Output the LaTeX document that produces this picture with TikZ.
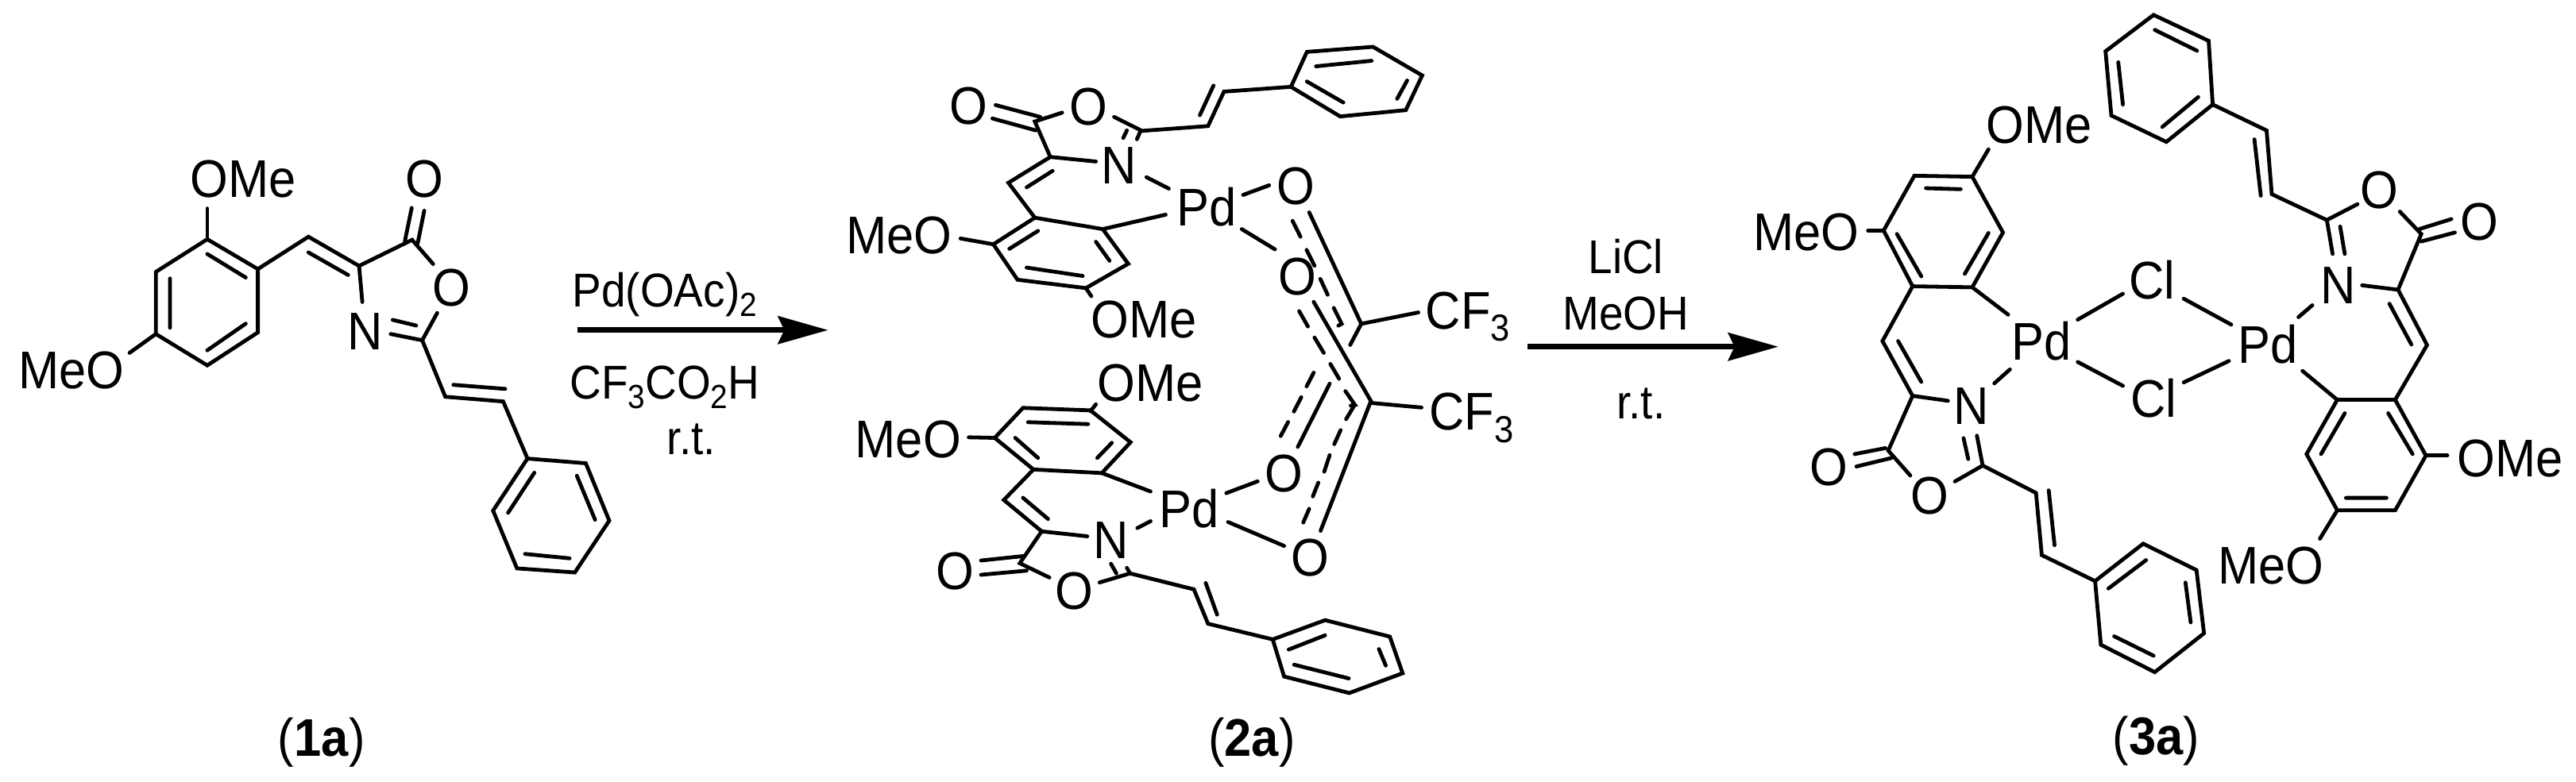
\documentclass[tikz,border=0pt]{standalone}
\usepackage{fontspec}
\setmainfont[FakeStretch=0.92]{Liberation Sans}
\usetikzlibrary{arrows.meta}
\newcommand{\sbig}[1]{\raisebox{-4.3pt}{\fontsize{13.5}{15}\selectfont #1}}
\newcommand{\ssmall}[1]{\raisebox{-3.3pt}{\fontsize{12}{14}\selectfont #1}}
\tikzset{
  bond/.style={line width=0.48mm,line cap=round,line join=miter,miter limit=10,black},
  lab/.style={font=\fontsize{19}{22}\selectfont,inner sep=0pt,outer sep=0pt,anchor=base,text=black},
  labw/.style={lab,anchor=base west},
  rgt/.style={font=\fontsize{17}{20}\selectfont,inner sep=0pt,outer sep=0pt,anchor=base,text=black},
  rgtw/.style={rgt,anchor=base west},
  rxn/.style={line width=0.66mm,black,-{Stealth[length=6.3mm,width=3.5mm,inset=0.8mm]}},
  fullpx/.style={shift={(0cm,9.84cm)},x=0.01cm,y=-0.01cm},
  cropa/.style={shift={(0cm,8.34cm)},x=0.005102cm,y=-0.003954cm},
  cropb/.style={shift={(10.4cm,9.84cm)},x=0.00574cm,y=-0.003189cm},
  cropc/.style={shift={(10.4cm,5.44cm)},x=0.00574cm,y=-0.003469cm},
  cropd/.style={shift={(21cm,9.84cm)},x=0.00729cm,y=-0.006276cm},
  crope/.style={shift={(15.8cm,7.84cm)},x=0.003333cm,y=-0.003333cm}
}
\begin{document}
\begin{tikzpicture}
\fill[white] (0,0) rectangle (32.43,9.84);
\useasboundingbox (0,0) rectangle (32.43,9.84);

% ---------- compound 1a ----------
\begin{scope}[cropa]
\draw[bond] (512,383)--(637,478)--(637,680)--(512,785)--(385,685)--(385,487)--cycle;
\draw[bond] (512,430)--(607,505) (607,652)--(512,737) (420,508)--(420,665);
\draw[bond] (512,383)--(512,285);
\draw[bond] (385,685)--(320,745);
\draw[bond] (637,478)--(762,375)--(887,468)--(1018,385)--(1070,462);
\draw[bond] (762,425)--(860,497);
\draw[bond] (1000,390)--(1017,283) (1032,395)--(1048,292);
\draw[bond] (887,468)--(895,583);
\draw[bond] (1080,618)--(1043,705)--(965,685);
\draw[bond] (1028,658)--(970,640);
\draw[bond] (1043,705)--(1100,885)--(1243,900)--(1303,1082);
\draw[bond] (1120,847)--(1248,860);
\draw[bond] (1303,1082)--(1447,1097)--(1505,1280)--(1420,1445)--(1277,1432)--(1218,1248)--cycle;
\draw[bond] (1320,1127)--(1255,1255) (1425,1137)--(1470,1277) (1407,1400)--(1297,1386);
\node[lab] (a-ome) at (600,250) {OMe};
\node[lab] (a-meo) at (176,858) {MeO};
\node[lab] (a-o1) at (1048,250) {O};
\node[lab] (a-o2) at (1115,595) {O};
\node[lab] (a-n) at (902,735) {N};
\end{scope}

% ---------- reagents and arrows ----------
\begin{scope}[fullpx]
\coordinate (r1s) at (727,416);
\coordinate (r1e) at (1043,416);
\coordinate (r2s) at (1924,437);
\coordinate (r2e) at (2240,437);
\draw[rxn] (r1s)--(r1e);
\draw[rxn] (r2s)--(r2e);
\node[rgtw] (pdoac) at (721,387) {Pd(OAc)\ssmall{2}};
\node[rgtw] (tfa) at (718,503) {CF\ssmall{3}CO\ssmall{2}H};
\node[rgt] (rt1) at (871,573) {r.t.};
\node[rgt] (licl) at (2048,345) {LiCl};
\node[rgt] (meoh) at (2048,416) {MeOH};
\node[rgt] (rt2) at (2067,528) {r.t.};
\node[lab] (l1) at (405,953) {(\textbf{1a})};
\node[lab] (l2) at (1577,953) {(\textbf{2a})};
\node[lab] (l3) at (2716,951) {(\textbf{3a})};
\end{scope}

% ---------- compound 2a, upper half ----------
\begin{scope}[cropb]
\draw[bond] (372,415)--(470,462) (365,468)--(460,515);
\draw[bond] (518,445)--(458,480)--(492,620)--(592,638);
\draw[bond] (632,462)--(693,517)--(838,498)--(873,362)--(1020,343);
\draw[bond] (690,517)--(682,550) (660,515)--(652,545);
\draw[bond] (820,455)--(850,338);
\draw[bond] (1020,343)--(1055,205)--(1200,185)--(1308,298)--(1272,435)--(1128,460)--cycle;
\draw[bond] (1075,262)--(1197,240) (1275,318)--(1253,390) (1135,405)--(1055,322);
\draw[bond] (492,620)--(400,722)--(458,860);
\draw[bond] (497,675)--(440,740);
\draw[bond] (458,860)--(607,905)--(663,1042)--(570,1138)--(420,1105)--(367,965)--cycle;
\draw[bond] (465,912)--(402,983) (592,955)--(622,1030) (563,1090)--(440,1057);
\draw[bond] (607,905)--(745,848);
\draw[bond] (703,700)--(752,745);
\draw[bond] (915,770)--(972,732);
\draw[bond] (912,905)--(985,985);
\draw[bond] (367,965)--(295,942);
\draw[bond] (570,1138)--(582,1170);
\node[lab] (b-o1) at (312,492) {O};
\node[lab] (b-o2) at (575,493) {O};
\node[lab] (b-n) at (643,725) {N};
\node[lab] (b-pd) at (835,893) {Pd};
\node[lab] (b-meo) at (160,1002) {MeO};
\node[lab] (b-ome) at (697,1335) {OMe};
\end{scope}

% ---------- trifluoroacetate bridges ----------
\begin{scope}[crope]
\draw[bond] (205,203)--(402,625)--(618,582);
\draw[bond] (142,235)--(172,295) (195,345)--(225,405) (247,455)--(275,515) (298,565)--(328,625)--(315,632);
\draw[bond] (402,625)--(360,705);
\draw[bond] (222,542)--(443,925)--(630,942);
\draw[bond] (167,577)--(200,635) (225,677)--(260,735) (285,777)--(318,833) (342,880)--(378,932)--(362,935);
\draw[bond] (222,810)--(195,862) (175,903)--(147,957) (125,997)--(97,1050);
\node[lab] (e-o1) at (153,172) {O};
\node[lab] (e-o2) at (160,515) {O};
\node[labw] (e-cf1) at (646,645) {CF\sbig{3}};
\node[labw] (e-cf2) at (659,1028) {CF\sbig{3}};
\end{scope}

% ---------- compound 2a, lower half ----------
\begin{scope}[cropc]
\draw[bond] (1105,125)--(1035,355);
\draw[bond] (1195,190)--(1085,660);
\draw[bond] (1158,207)--(1141,254) (1129,294)--(1115,345) (1105,385)--(1093,445) (1080,485)--(1068,535) (1060,580)--(1047,630);
\draw[bond] (580,225)--(592,200);
\draw[bond] (580,222)--(432,213)--(370,322)--(455,437)--(605,450)--(668,338)--cycle;
\draw[bond] (575,272)--(443,265) (415,322)--(465,395) (627,340)--(595,395);
\draw[bond] (370,322)--(313,320);
\draw[bond] (455,437)--(390,548)--(473,662);
\draw[bond] (432,540)--(487,617);
\draw[bond] (605,450)--(712,517);
\draw[bond] (683,650)--(712,625);
\draw[bond] (573,680)--(473,662)--(425,778)--(490,830);
\draw[bond] (433,752)--(340,768) (440,805)--(340,820);
\draw[bond] (600,848)--(667,815)--(807,873)--(838,998)--(980,1055);
\draw[bond] (625,780)--(637,815) (660,795)--(667,815);
\draw[bond] (833,850)--(858,965);
\draw[bond] (980,1055)--(1095,985)--(1237,1045)--(1265,1178)--(1148,1250)--(1005,1190)--cycle;
\draw[bond] (1015,1092)--(1095,1040) (1213,1090)--(1228,1150) (1147,1197)--(1027,1147);
\draw[bond] (878,523)--(947,480);
\draw[bond] (882,628)--(1005,715);
\node[lab] (c-ome) at (712,188) {OMe};
\node[lab] (c-meo) at (180,393) {MeO};
\node[lab] (c-pd) at (797,647) {Pd};
\node[lab] (c-n) at (625,762) {N};
\node[lab] (c-o1) at (283,873) {O};
\node[lab] (c-o2) at (545,945) {O};
\node[lab] (c-o3) at (1005,518) {O};
\node[lab] (c-o4) at (1062,825) {O};
\end{scope}

% ---------- compound 3a ----------
\begin{scope}[cropd]
% left half
\draw[bond] (422,575)--(525,577)--(578,467)--(525,355)--(425,353)--(372,463)--cycle;
\draw[bond] (512,550)--(553,468) (505,380)--(445,378) (437,555)--(395,470);
\draw[bond] (525,355)--(553,300);
\draw[bond] (372,463)--(345,463);
\draw[bond] (422,575)--(370,685)--(422,795);
\draw[bond] (397,685)--(437,767);
\draw[bond] (525,577)--(587,632);
\draw[bond] (563,770)--(590,742);
\draw[bond] (483,805)--(422,795)--(380,905)--(418,955);
\draw[bond] (375,900)--(322,912) (385,920)--(325,937);
\draw[bond] (495,967)--(543,935)--(533,875);
\draw[bond] (518,922)--(510,880);
\draw[bond] (543,935)--(635,990)--(645,1115)--(737,1167);
\draw[bond] (657,985)--(667,1095);
\draw[bond] (737,1167)--(820,1092)--(912,1145)--(925,1272)--(840,1350)--(747,1295)--cycle;
\draw[bond] (760,1182)--(825,1125) (893,1170)--(902,1250) (770,1278)--(838,1317);
% chloride bridges
\draw[bond] (707,642)--(785,590) (890,600)--(972,652);
\draw[bond] (707,727)--(785,775) (890,768)--(968,725);
% right half
\draw[bond] (1088,637)--(1112,613);
\draw[bond] (1155,803)--(1255,803)--(1308,915)--(1255,1025)--(1155,1025)--(1102,912)--cycle;
\draw[bond] (1243,830)--(1285,912) (1240,1000)--(1170,1000) (1127,912)--(1168,830);
\draw[bond] (1095,745)--(1155,803);
\draw[bond] (1255,803)--(1310,693)--(1260,582);
\draw[bond] (1283,692)--(1245,610);
\draw[bond] (1198,573)--(1260,582)--(1300,470)--(1263,425);
\draw[bond] (1297,460)--(1352,440) (1300,485)--(1358,467);
\draw[bond] (1190,410)--(1137,442)--(1147,510);
\draw[bond] (1160,455)--(1168,510);
\draw[bond] (1137,442)--(1042,390)--(1033,262)--(940,210);
\draw[bond] (1023,393)--(1012,280);
\draw[bond] (940,210)--(860,285)--(765,232)--(755,103)--(838,30)--(933,82)--cycle;
\draw[bond] (915,195)--(853,255) (785,210)--(777,125) (840,60)--(913,102);
\draw[bond] (1308,915)--(1345,915);
\draw[bond] (1155,1025)--(1125,1082);
\node[lab] (d-ome1) at (640,288) {OMe};
\node[lab] (d-meo1) at (238,503) {MeO};
\node[lab] (d-pd1) at (645,723) {Pd};
\node[lab] (d-n1) at (523,852) {N};
\node[lab] (d-o1) at (277,975) {O};
\node[lab] (d-o2) at (452,1033) {O};
\node[lab] (d-cl1) at (835,600) {Cl};
\node[lab] (d-cl2) at (838,838) {Cl};
\node[lab] (d-pd2) at (1035,730) {Pd};
\node[lab] (d-n2) at (1157,610) {N};
\node[lab] (d-o3) at (1400,482) {O};
\node[lab] (d-o4) at (1227,418) {O};
\node[lab] (d-ome2) at (1453,957) {OMe};
\node[lab] (d-meo2) at (1040,1173) {MeO};
\end{scope}
\end{tikzpicture}
\end{document}
